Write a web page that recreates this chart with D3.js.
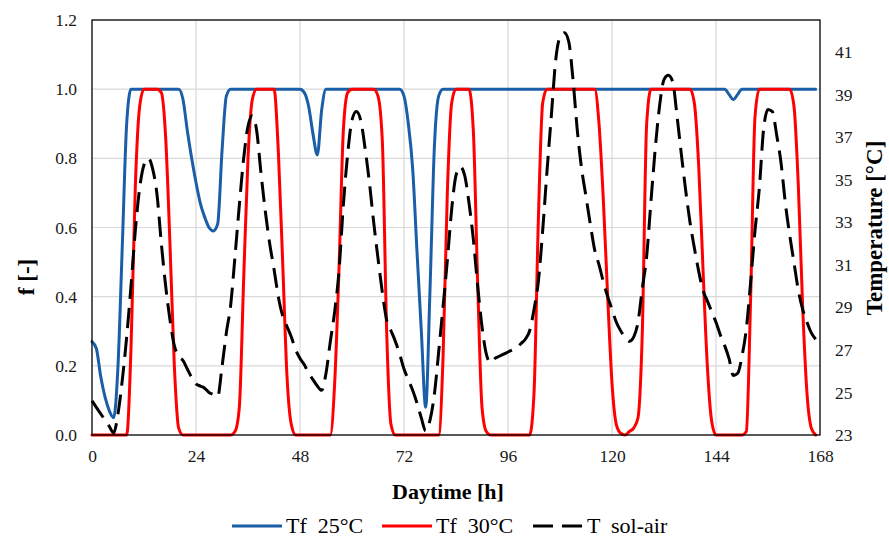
<!DOCTYPE html>
<html>
<head>
<meta charset="utf-8">
<script src="https://cdn.jsdelivr.net/npm/d3@7"></script>
<style>
  html, body { margin: 0; padding: 0; background: #fff; }
  svg, svg text { font-family: "Liberation Serif", "Times New Roman", serif; }
  svg { display: block; }
</style>
</head>
<body>
<svg id="chart" width="889" height="539"></svg>
<script>
// Hourly series over one week (hours 0..167)
const hours = d3.range(0, 168);

// Fraction f [-] for a 25 °C threshold
const tf25 = [
  0.27,0.25,0.17,0.11,0.07,0.05,0.20,0.55,0.90,1,1,1,1,1,1,1,1,1,1,1,1,0.97,0.88,0.80,
  0.73,0.67,0.63,0.60,0.59,0.61,0.82,0.98,1,1,1,1,1,1,1,1,1,1,1,1,1,1,1,1,
  1,0.99,0.95,0.87,0.81,0.94,1,1,1,1,1,1,1,1,1,1,1,1,1,1,1,1,1,1,
  0.98,0.90,0.77,0.53,0.30,0.08,0.42,0.83,0.98,1,1,1,1,1,1,1,1,1,1,1,1,1,1,1,
  1,1,1,1,1,1,1,1,1,1,1,1,1,1,1,1,1,1,1,1,1,1,1,1,
  1,1,1,1,1,1,1,1,1,1,1,1,1,1,1,1,1,1,1,1,1,1,1,1,
  1,1,1,0.985,0.97,0.985,1,1,1,1,1,1,1,1,1,1,1,1,1,1,1,1,1,1
];

// Fraction f [-] for a 30 °C threshold
const tf30 = [
  0,0,0,0,0,0,0,0,0,0.25,0.72,0.95,1,1,1,1,0.99,0.86,0.55,0.20,0.02,0,0,0,
  0,0,0,0,0,0,0,0,0,0.01,0.08,0.45,0.80,0.97,1,1,1,1,1,0.82,0.50,0.17,0.03,0,
  0,0,0,0,0,0,0,0,0.15,0.48,0.88,0.99,1,1,1,1,1,1,0.98,0.85,0.30,0.03,0,0,
  0,0,0,0,0,0,0,0,0,0.22,0.70,0.96,1,1,1,1,0.88,0.44,0.08,0.01,0,0,0,0,
  0,0,0,0,0,0,0.12,0.62,0.96,1,1,1,1,1,1,1,1,1,1,1,1,0.90,0.68,0.40,
  0.15,0.03,0.005,0,0.01,0.02,0.05,0.30,0.90,1,1,1,1,1,1,1,1,1,1,0.96,0.78,0.48,0.20,0.04,
  0,0,0,0,0,0,0,0.01,0.40,0.92,1,1,1,1,1,1,1,1,0.95,0.72,0.37,0.12,0.02,0
];

// Sol-air temperature [°C]
const tSolAir = [
  24.6,24.3,24.0,23.7,23.4,23.1,24.0,25.6,27.6,30.0,32.6,34.6,35.7,36.0,35.5,34.3,32.0,30.0,28.4,27.2,26.7,26.5,26.1,25.7,
  25.4,25.3,25.2,25.0,24.9,24.8,26.2,27.8,29.1,31.4,33.8,36.0,37.5,38.0,37.3,35.3,33.5,32.0,30.8,29.5,28.6,28.1,27.6,27.0,
  26.6,26.3,25.9,25.6,25.3,25.1,25.9,27.4,28.8,30.7,33.8,36.2,37.8,38.2,37.8,36.5,34.9,33.0,31.3,29.7,28.4,27.9,27.4,26.8,
  26.1,25.6,25.1,24.5,23.8,23.2,23.7,24.9,26.9,29.0,31.2,33.6,35.2,35.6,35.2,33.9,32.2,30.0,28.1,26.8,26.4,26.6,26.7,26.8,
  26.9,27.0,27.1,27.3,27.5,27.9,28.9,30.2,32.6,35.4,38.0,40.6,41.7,41.9,41.5,39.7,37.3,35.5,34.2,32.9,31.7,31.0,30.2,29.5,
  28.9,28.3,27.9,27.6,27.4,27.6,28.3,29.9,31.4,34.0,36.5,38.5,39.7,39.9,39.6,38.0,36.2,34.5,33.0,31.8,30.7,29.8,29.3,28.8,
  28.3,27.7,27.2,26.6,25.8,25.9,26.7,28.0,30.2,32.6,34.6,37.4,38.3,38.2,37.1,35.8,33.9,32.4,31.1,29.8,28.9,28.3,27.8,27.5
];

// Axis ticks
const xTicks = [0, 24, 48, 72, 96, 120, 144, 168];
const fTicks = [0, 0.2, 0.4, 0.6, 0.8, 1.0, 1.2];
const tTicks = [23, 25, 27, 29, 31, 33, 35, 37, 39, 41];

// Legend entries
const seriesNames = ["Tf  25°C", "Tf  30°C", "T  sol-air"];

const svg = d3.select("#chart");
const plot = { left: 92, right: 820, top: 20, bottom: 435 };
const serif = "Liberation Serif";

const x = d3.scaleLinear().domain([0, 168]).range([plot.left, plot.right]);
const yF = d3.scaleLinear().domain([0, 1.2]).range([plot.bottom, plot.top]);
const yT = d3.scaleLinear().domain([23, 42.5]).range([plot.bottom, plot.top]);

// Gridlines
const grid = svg.append("g").attr("stroke", "#d9d9d9").attr("stroke-width", 1.2);
grid.selectAll("line.h").data(fTicks.slice(1, -1)).enter().append("line")
  .attr("x1", plot.left).attr("x2", plot.right)
  .attr("y1", d => yF(d)).attr("y2", d => yF(d));
grid.selectAll("line.v").data(xTicks.slice(1, -1)).enter().append("line")
  .attr("y1", plot.top).attr("y2", plot.bottom)
  .attr("x1", d => x(d)).attr("x2", d => x(d));

// Axes (labels only, no tick marks)
function styleAxis(g) {
  g.attr("font-family", serif).attr("font-size", 17.5);
  g.select(".domain").remove();
  g.selectAll("text").attr("fill", "#1a1a1a");
}
svg.append("g").attr("transform", `translate(${plot.left},0)`)
  .call(d3.axisLeft(yF).tickValues(fTicks).tickFormat(d3.format(".1f")).tickSize(0).tickPadding(15))
  .call(styleAxis);
svg.append("g").attr("transform", `translate(0,${plot.bottom})`)
  .call(d3.axisBottom(x).tickValues(xTicks).tickFormat(d3.format("d")).tickSize(0).tickPadding(15))
  .call(styleAxis);
svg.append("g").attr("transform", `translate(${plot.right},0)`)
  .call(d3.axisRight(yT).tickValues(tTicks).tickFormat(d3.format("d")).tickSize(0).tickPadding(15))
  .call(styleAxis);

// Series lines
const lineF = d3.line().x((d, i) => x(hours[i])).y(d => yF(d)).curve(d3.curveMonotoneX);
const lineT = d3.line().x((d, i) => x(hours[i])).y(d => yT(d)).curve(d3.curveMonotoneX);

svg.append("path").datum(tf25).attr("d", lineF)
  .attr("fill", "none").attr("stroke", "#1a5ea8").attr("stroke-width", 3)
  .attr("stroke-linejoin", "round").attr("stroke-linecap", "round");
svg.append("path").datum(tf30).attr("d", lineF)
  .attr("fill", "none").attr("stroke", "#ff0000").attr("stroke-width", 3)
  .attr("stroke-linejoin", "round").attr("stroke-linecap", "round");
svg.append("path").datum(tSolAir).attr("d", lineT)
  .attr("fill", "none").attr("stroke", "#000").attr("stroke-width", 3)
  .attr("stroke-dasharray", "20,9").attr("stroke-linejoin", "round");

// Plot frame
svg.append("rect")
  .attr("x", plot.left).attr("y", plot.top)
  .attr("width", plot.right - plot.left).attr("height", plot.bottom - plot.top)
  .attr("fill", "none").attr("stroke", "#000").attr("stroke-width", 1.3);

// Axis titles
svg.append("text").attr("x", 448).attr("y", 499).attr("text-anchor", "middle")
  .attr("font-size", 22).attr("font-weight", "bold").text("Daytime [h]");
svg.append("text").attr("transform", "translate(34,277) rotate(-90)").attr("text-anchor", "middle")
  .attr("font-size", 23).attr("font-weight", "bold").text("f [-]");
svg.append("text").attr("transform", "translate(882,228) rotate(-90)").attr("text-anchor", "middle")
  .attr("font-size", 23).attr("font-weight", "bold").text("Temperature [°C]");

// Legend
const legendItems = [
  { name: seriesNames[0], color: "#1a5ea8", dash: null, x0: 232 },
  { name: seriesNames[1], color: "#ff0000", dash: null, x0: 382 },
  { name: seriesNames[2], color: "#000", dash: "20,9", x0: 533 }
];
const legend = svg.append("g");
legendItems.forEach(it => {
  legend.append("line").attr("x1", it.x0).attr("x2", it.x0 + 50)
    .attr("y1", 526).attr("y2", 526)
    .attr("stroke", it.color).attr("stroke-width", 3)
    .attr("stroke-dasharray", it.dash);
  legend.append("text").attr("x", it.x0 + 54).attr("y", 533)
    .attr("font-size", 22).attr("xml:space", "preserve").style("white-space", "pre")
    .text(it.name);
});
</script>
</body>
</html>
